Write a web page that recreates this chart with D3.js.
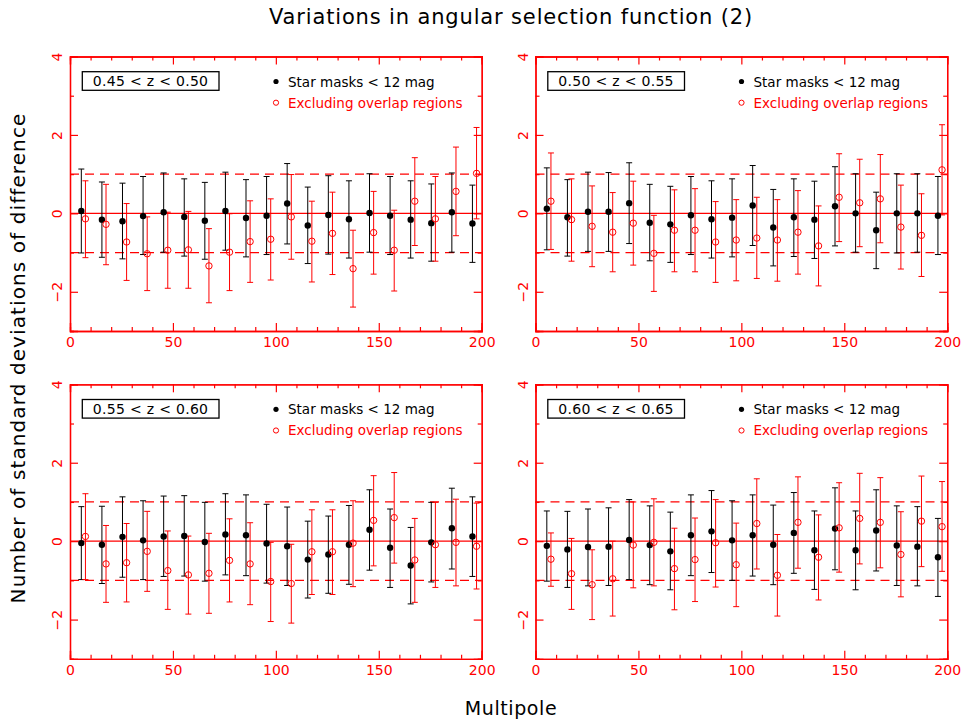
<!DOCTYPE html>
<html><head><meta charset="utf-8">
<script src="https://cdn.jsdelivr.net/npm/d3@7"></script>
<style>body{margin:0;background:#fff}svg{display:block}text{font-family:"DejaVu Sans",sans-serif}</style>
</head><body><svg id="c" width="962" height="721"></svg>
<script>
// ---- data ----
const zLabels = ["0.45 < z < 0.50","0.50 < z < 0.55","0.55 < z < 0.60","0.60 < z < 0.65"];
const lBlack = [5.5,15.5,25.5,35.5,45.5,55.5,65.5,75.5,85.5,95.5,105.5,115.5,125.5,135.5,145.5,155.5,165.5,175.5,185.5,195.5];
const lRed   = [7.5,17.5,27.5,37.5,47.5,57.5,67.5,77.5,87.5,97.5,107.5,117.5,127.5,137.5,147.5,157.5,167.5,177.5,187.5,197.5];
const xTicks = [0,50,100,150,200];
const yTicks = [-2,0,2,4];

// panel 1: 0.45<z<0.50
const b1 = [0.06,-0.16,-0.20,-0.07,0.03,-0.09,-0.19,0.06,-0.12,-0.06,0.25,-0.31,-0.04,-0.15,0.01,-0.06,-0.16,-0.25,0.03,-0.26];
const b1hi = [1.13,0.80,0.77,0.94,1.03,0.88,0.79,1.05,0.86,0.94,1.27,0.67,0.96,0.83,1.01,0.94,0.83,0.75,1.03,0.72];
const b1lo = [-1.01,-1.12,-1.16,-1.05,-0.99,-1.09,-1.17,-0.94,-1.11,-1.05,-0.78,-1.28,-1.04,-1.14,-0.99,-1.05,-1.14,-1.22,-0.99,-1.25];
const r1 = [-0.14,-0.28,-0.73,-1.03,-0.94,-0.93,-1.34,-0.99,-0.72,-0.66,-0.09,-0.71,-0.51,-1.41,-0.49,-0.94,0.31,-0.14,0.56,1.02];
const r1hi = [0.83,0.74,0.25,-0.09,0.03,0.05,-0.39,-0.01,0.32,0.37,0.99,0.31,0.54,-0.43,0.56,0.08,1.42,0.94,1.69,2.19];
const r1lo = [-1.13,-1.31,-1.71,-1.97,-1.91,-1.91,-2.28,-1.97,-1.76,-1.70,-1.17,-1.75,-1.56,-2.39,-1.55,-1.98,-0.82,-1.22,-0.57,-0.14];

// panel 2: 0.50<z<0.55
const b2 = [0.12,-0.10,0.04,0.04,0.26,-0.24,-0.28,-0.05,-0.15,-0.11,0.20,-0.36,-0.10,-0.16,0.18,0.00,-0.43,0.00,0.00,-0.06];
const b2hi = [1.16,0.86,1.05,1.04,1.29,0.74,0.69,0.94,0.83,0.88,1.22,0.61,0.88,0.82,1.19,1.01,0.54,1.01,1.01,0.94];
const b2lo = [-0.93,-1.09,-0.97,-0.97,-0.77,-1.21,-1.25,-1.05,-1.14,-1.11,-0.82,-1.34,-1.10,-1.15,-0.83,-0.99,-1.41,-1.01,-0.99,-1.05];
const r2 = [0.31,-0.16,-0.33,-0.48,-0.25,-1.02,-0.43,-0.43,-0.73,-0.68,-0.63,-0.68,-0.48,-0.83,0.41,0.27,0.37,-0.35,-0.56,1.11];
const r2hi = [1.54,0.88,0.70,0.53,0.82,-0.05,0.60,0.63,0.30,0.35,0.41,0.35,0.58,0.19,1.52,1.38,1.50,0.72,0.50,2.26];
const r2lo = [-0.92,-1.22,-1.36,-1.49,-1.32,-1.99,-1.49,-1.49,-1.76,-1.72,-1.66,-1.73,-1.55,-1.85,-0.72,-0.85,-0.75,-1.42,-1.61,-0.04];

// panel 3: 0.55<z<0.60
const b3 = [-0.05,-0.09,0.11,0.02,0.12,0.13,-0.02,0.17,0.15,-0.06,-0.13,-0.47,-0.34,-0.09,0.29,-0.17,-0.62,-0.03,0.33,0.12];
const b3hi = [0.88,0.89,1.13,1.03,1.15,1.16,0.99,1.21,1.18,0.94,0.87,0.51,0.64,0.91,1.31,0.82,0.35,0.99,1.35,1.13];
const b3lo = [-0.98,-1.08,-0.92,-0.98,-0.90,-0.89,-1.02,-0.86,-0.88,-1.07,-1.13,-1.45,-1.33,-1.10,-0.74,-1.18,-1.60,-1.04,-0.71,-0.90];
const r3 = [0.12,-0.58,-0.55,-0.26,-0.75,-0.86,-0.82,-0.49,-0.58,-1.03,-1.08,-0.27,-0.27,-0.05,0.53,0.60,-0.48,-0.09,-0.03,-0.13];
const r3hi = [1.21,0.40,0.45,0.76,0.26,0.13,0.20,0.57,0.47,-0.03,-0.08,0.80,0.80,1.03,1.67,1.75,0.58,0.99,1.07,0.97];
const r3lo = [-0.98,-1.56,-1.55,-1.28,-1.74,-1.86,-1.84,-1.55,-1.62,-2.05,-2.09,-1.36,-1.36,-1.16,-0.63,-0.56,-1.56,-1.18,-1.14,-1.22];

// panel 4: 0.60<z<0.65
const b4 = [-0.12,-0.21,-0.15,-0.14,0.03,-0.10,-0.26,0.15,0.25,0.02,0.15,-0.09,0.21,-0.23,0.32,-0.23,0.27,-0.11,-0.14,-0.41];
const b4hi = [0.77,0.76,0.82,0.85,1.06,0.90,0.74,1.18,1.29,1.03,1.18,0.92,1.24,0.77,1.36,0.77,1.31,0.90,0.88,0.58];
const b4lo = [-1.02,-1.18,-1.14,-1.13,-0.98,-1.11,-1.24,-0.88,-0.80,-1.00,-0.89,-1.11,-0.82,-1.23,-0.73,-1.24,-0.76,-1.13,-1.14,-1.41];
const r4 = [-0.46,-0.83,-1.11,-0.96,-0.10,-0.03,-0.70,-0.47,-0.04,-0.60,0.45,-0.87,0.48,-0.41,0.34,0.58,0.48,-0.34,0.51,0.37];
const r4hi = [0.21,0.07,-0.22,0.00,1.00,1.08,0.33,0.59,1.06,0.46,1.59,0.17,1.64,0.67,1.49,1.73,1.62,0.75,1.66,1.52];
const r4lo = [-1.15,-1.74,-2.00,-1.91,-1.19,-1.14,-1.75,-1.54,-1.17,-1.67,-0.71,-1.91,-0.69,-1.50,-0.79,-0.58,-0.68,-1.42,-0.65,-0.77];

const panelsData = [
  {z: zLabels[0], b: b1, bhi: b1hi, blo: b1lo, r: r1, rhi: r1hi, rlo: r1lo},
  {z: zLabels[1], b: b2, bhi: b2hi, blo: b2lo, r: r2, rhi: r2hi, rlo: r2lo},
  {z: zLabels[2], b: b3, bhi: b3hi, blo: b3lo, r: r3, rhi: r3hi, rlo: r3lo},
  {z: zLabels[3], b: b4, bhi: b4hi, blo: b4lo, r: r4, rhi: r4hi, rlo: r4lo}
];

// ---- layout ----
const svg = d3.select("#c");
const RED = "#ff0000";
const pw = 411.7, ph = 274.5;
const origins = [[70,56.5],[535.5,56.5],[70,384.3],[535.5,384.3]];

svg.append("text").attr("x",511).attr("y",24).attr("text-anchor","middle")
  .attr("font-size",21).attr("letter-spacing",0.85).attr("fill","#000").text("Variations in angular selection function (2)");
svg.append("text").attr("x",511).attr("y",715).attr("text-anchor","middle")
  .attr("font-size",19).attr("letter-spacing",0.6).attr("fill","#000").text("Multipole");
svg.append("text").attr("transform","translate(25,358) rotate(-90)").attr("text-anchor","middle")
  .attr("font-size",20).attr("letter-spacing",1.1).attr("fill","#000").text("Number of standard deviations of difference");

panelsData.forEach((p,i)=>{
  const [ox,oy] = origins[i];
  const g = svg.append("g").attr("transform",`translate(${ox},${oy})`);
  const x = d3.scaleLinear().domain([0,200]).range([0,pw]);
  const y = d3.scaleLinear().domain([-3,4]).range([ph,0]);

  // reference lines
  g.append("line").attr("x1",0).attr("x2",pw).attr("y1",y(0)).attr("y2",y(0))
    .attr("stroke",RED).attr("stroke-width",1.2);
  [1,-1].forEach(v=>g.append("line").attr("x1",0).attr("x2",pw).attr("y1",y(v)).attr("y2",y(v))
    .attr("stroke",RED).attr("stroke-width",1.2).attr("stroke-dasharray","9,6"));

  // axes with inward ticks
  const minorX = d3.range(10,200,10).filter(v=>v%50!==0);
  const minorY = [-3,-1,1,3];
  const axB = d3.axisBottom(x).tickValues(xTicks).tickSize(-8).tickPadding(6).tickFormat(d3.format("d"));
  const axT = d3.axisTop(x).tickValues(xTicks).tickSize(-8).tickFormat("");
  const axL = d3.axisLeft(y).tickValues(yTicks).tickSize(-8).tickPadding(12).tickFormat(d=>d<0?"\u2212"+Math.abs(d):d);
  const axR = d3.axisRight(y).tickValues(yTicks).tickSize(-8).tickFormat("");
  g.append("g").attr("transform",`translate(0,${ph})`).call(axB);
  g.append("g").call(axT);
  const gL = g.append("g").call(axL);
  g.append("g").attr("transform",`translate(${pw},0)`).call(axR);
  g.append("g").attr("transform",`translate(0,${ph})`).call(d3.axisBottom(x).tickValues(minorX).tickSize(-4).tickFormat(""));
  g.append("g").call(d3.axisTop(x).tickValues(minorX).tickSize(-4).tickFormat(""));
  g.append("g").call(d3.axisLeft(y).tickValues(minorY).tickSize(-4).tickFormat(""));
  g.append("g").attr("transform",`translate(${pw},0)`).call(d3.axisRight(y).tickValues(minorY).tickSize(-4).tickFormat(""));
  g.selectAll(".domain").attr("stroke",RED).attr("stroke-width",1.3);
  g.selectAll(".tick line").attr("stroke",RED).attr("stroke-width",1.2);
  g.selectAll(".tick text").attr("fill",RED).attr("font-size",14).attr("font-family","DejaVu Sans");
  gL.selectAll(".tick text").attr("text-anchor","middle").attr("dy",0)
    .attr("transform","translate(-13,0) rotate(-90)").attr("x",0).attr("y",5);

  // error bars
  const drawSet = (xs, vals, his, los, color) => {
    const eg = g.append("g");
    xs.forEach((l,k)=>{
      const xx = x(l);
      eg.append("line").attr("x1",xx).attr("x2",xx).attr("y1",y(his[k])).attr("y2",y(los[k]))
        .attr("stroke",color).attr("stroke-width",1);
      [his[k],los[k]].forEach(v=>eg.append("line").attr("x1",xx-3).attr("x2",xx+3).attr("y1",y(v)).attr("y2",y(v))
        .attr("stroke",color).attr("stroke-width",1));
    });
  };
  drawSet(lBlack, p.b, p.bhi, p.blo, "#000");
  drawSet(lRed, p.r, p.rhi, p.rlo, RED);
  g.append("g").selectAll("circle").data(p.b).join("circle")
    .attr("cx",(d,k)=>x(lBlack[k])).attr("cy",d=>y(d)).attr("r",3.2).attr("fill","#000");
  g.append("g").selectAll("circle").data(p.r).join("circle")
    .attr("cx",(d,k)=>x(lRed[k])).attr("cy",d=>y(d)).attr("r",3.2).attr("fill","none").attr("stroke",RED).attr("stroke-width",1);

  // label box
  g.append("rect").attr("x",12.3).attr("y",15.2).attr("width",136.7).attr("height",18.6)
    .attr("fill","none").attr("stroke","#000").attr("stroke-width",1.3);
  g.append("text").attr("x",80.6).attr("y",29.5).attr("text-anchor","middle").attr("font-size",14)
    .attr("letter-spacing",0.3).attr("fill","#000").text(p.z);
  // legend
  g.append("circle").attr("cx",206).attr("cy",25).attr("r",2.6).attr("fill","#000");
  g.append("text").attr("x",218).attr("y",30).attr("font-size",13.5).attr("fill","#000").text("Star masks < 12 mag");
  g.append("circle").attr("cx",206).attr("cy",46.2).attr("r",2.6).attr("fill","none").attr("stroke",RED).attr("stroke-width",1);
  g.append("text").attr("x",218).attr("y",51).attr("font-size",13.5).attr("fill",RED).text("Excluding overlap regions");
});
</script></body></html>
